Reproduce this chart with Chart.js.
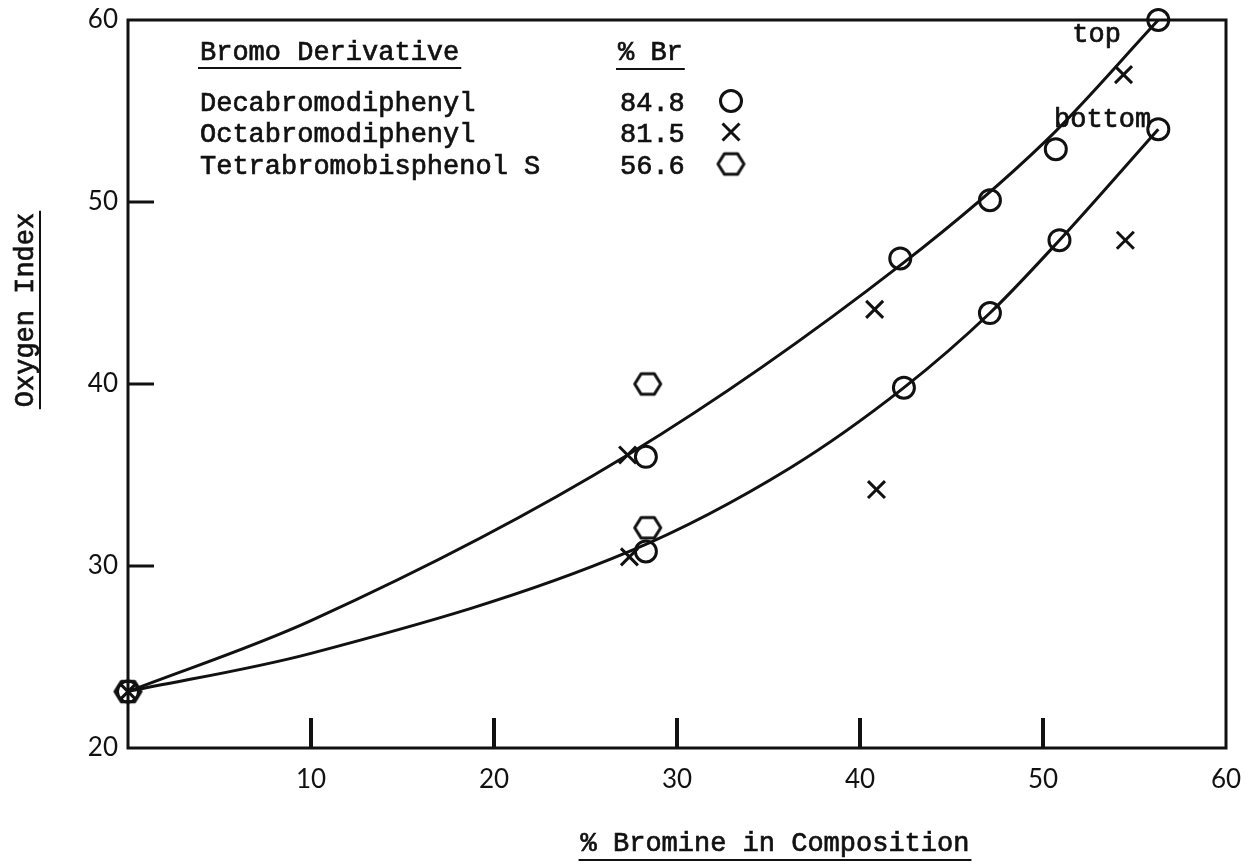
<!DOCTYPE html>
<html>
<head>
<meta charset="utf-8">
<title>Oxygen Index vs % Bromine</title>
<script src="https://cdn.jsdelivr.net/npm/chart.js@4.4.1/dist/chart.umd.min.js"></script>
<style>
  html, body { margin: 0; padding: 0; background: #fff; }
  #wrap { width: 1248px; height: 867px; }
</style>
</head>
<body>
<div id="wrap"><canvas id="chart" width="1248" height="867"></canvas></div>
<script>
// measured points, by bromo derivative
const decaX = [0, 28.3, 42.2, 47.1, 50.7, 56.3, 28.3, 42.4, 47.1, 50.9, 56.3];
const decaY = [23.1, 36.0, 46.9, 50.1, 52.9, 60.0, 30.8, 39.8, 43.9, 47.9, 54.0];
const octaX = [0, 27.3, 40.8, 54.4, 27.4, 40.9, 54.5];
const octaY = [23.1, 36.1, 44.1, 57.0, 30.5, 34.2, 47.9];
const tetraX = [0, 28.4, 28.4];
const tetraY = [23.1, 40.0, 32.1];

// hand-drawn fit lines ("top" and "bottom")
const topCurveX = [0, 10, 27.3, 42.3, 50.2, 56.3];
const topCurveY = [23.1, 27.0, 36.1, 46.6, 53.4, 60.0];
const bottomCurveX = [0, 10, 27.4, 36.2, 42.4, 47.1, 50.9, 56.3];
const bottomCurveY = [23.1, 25.2, 30.8, 35.4, 39.8, 43.9, 47.9, 54.0];

const xTicks = [0, 10, 20, 30, 40, 50, 60];
const yTicks = [20, 30, 40, 50, 60];

const derivatives = ['Decabromodiphenyl', 'Octabromodiphenyl', 'Tetrabromobisphenol S'];
const percentBr = ['84.8', '81.5', '56.6'];

const ink = '#111';
const typewriter = '27px "Liberation Mono", "Courier New", monospace';

// hexagon marker, flat top and bottom
function makeHexagon(r, lw) {
  const c = document.createElement('canvas');
  c.width = Math.ceil(2 * r + lw + 2);
  c.height = Math.ceil(2 * r * 0.92 + lw + 2);
  const g = c.getContext('2d');
  g.translate(c.width / 2, c.height / 2);
  g.strokeStyle = ink;
  g.lineWidth = lw;
  g.lineJoin = 'round';
  g.beginPath();
  for (let i = 0; i < 6; i++) {
    const a = i * Math.PI / 3;
    const px = r * Math.cos(a), py = r * 0.92 * Math.sin(a);
    if (i === 0) g.moveTo(px, py); else g.lineTo(px, py);
  }
  g.closePath();
  g.stroke();
  return c;
}
const hexagon = makeHexagon(13, 3);

const toPoints = (xs, ys) => xs.map((v, i) => ({ x: v, y: ys[i] }));

const markerStyles = [
  { pointStyle: 'circle', radius: 10.5 },
  { pointStyle: 'crossRot', radius: 12 },
  { pointStyle: hexagon, radius: 13 }
];

function line(ctx, x1, y1, x2, y2) {
  ctx.beginPath();
  ctx.moveTo(x1, y1);
  ctx.lineTo(x2, y2);
  ctx.stroke();
}

// typed text looks a bit heavier than the plain face
function typed(ctx, text, x, y) {
  ctx.fillText(text, x, y);
  ctx.lineWidth = 0.7;
  ctx.strokeText(text, x, y);
}

function underlinedText(ctx, text, x, y, gap) {
  typed(ctx, text, x, y);
  const w = ctx.measureText(text).width;
  ctx.lineWidth = 2;
  line(ctx, x - 2, y + gap, x + w + 2, y + gap);
}

const paperPlugin = {
  id: 'paper',
  beforeDatasetsDraw(chart) {
    const { ctx, chartArea: a, scales: { x, y } } = chart;
    ctx.save();
    ctx.strokeStyle = ink;
    ctx.lineWidth = 3;
    ctx.lineCap = 'square';
    ctx.strokeRect(a.left, a.top, a.right - a.left, a.bottom - a.top);

    // ticks point into the plot
    ctx.lineCap = 'butt';
    ctx.lineWidth = 4;
    xTicks.forEach(v => {
      if (v <= 0 || v >= 60) return;
      const px = x.getPixelForValue(v);
      line(ctx, px, a.bottom, px, a.bottom - 30);
    });
    ctx.lineWidth = 3;
    yTicks.forEach(v => {
      if (v <= 20 || v >= 60) return;
      const py = y.getPixelForValue(v);
      line(ctx, a.left, py, a.left + 26, py);
    });
    ctx.restore();
  },
  afterDraw(chart) {
    const { ctx, scales: { x, y } } = chart;
    ctx.save();
    ctx.fillStyle = ink;
    ctx.strokeStyle = ink;
    ctx.font = typewriter;
    ctx.textBaseline = 'alphabetic';
    ctx.textAlign = 'left';

    // axis titles
    const xt = '% Bromine in Composition';
    const xtw = ctx.measureText(xt).width;
    underlinedText(ctx, xt, 775 - xtw / 2, 851, 9);

    ctx.save();
    ctx.translate(33, 310);
    ctx.rotate(-Math.PI / 2);
    const yt = 'Oxygen Index';
    const ytw = ctx.measureText(yt).width;
    underlinedText(ctx, yt, -ytw / 2, 0, 7);
    ctx.restore();

    // key table
    underlinedText(ctx, 'Bromo Derivative', 200, 60, 8);
    underlinedText(ctx, '% Br', 618, 60, 9);
    const rowBase = [111, 142, 174];
    derivatives.forEach((name, i) => {
      typed(ctx, name, 200, rowBase[i]);
      typed(ctx, percentBr[i], 620, rowBase[i]);
      const m = markerStyles[i];
      ctx.lineWidth = 3;
      ctx.fillStyle = 'rgba(0,0,0,0)';
      Chart.helpers.drawPoint(ctx, { pointStyle: m.pointStyle, radius: m.radius, borderWidth: 3, rotation: 0 },
        731, rowBase[i] - 10);
      ctx.fillStyle = ink;
    });

    // curve labels
    typed(ctx, 'top', x.getPixelForValue(51.6), y.getPixelForValue(58.8));
    typed(ctx, 'bottom', x.getPixelForValue(50.6), y.getPixelForValue(54.1));
    ctx.restore();
  }
};

const curveStyle = {
  showLine: true,
  borderColor: ink,
  borderWidth: 3,
  pointRadius: 0,
  cubicInterpolationMode: 'monotone',
  fill: false,
  clip: false
};

const markerStyle = (m) => ({
  showLine: false,
  pointStyle: m.pointStyle,
  pointRadius: m.radius,
  pointBorderWidth: 3,
  pointBorderColor: ink,
  pointBackgroundColor: 'rgba(0,0,0,0)',
  clip: false
});

new Chart(document.getElementById('chart'), {
  type: 'scatter',
  data: {
    datasets: [
      Object.assign({ label: 'top', data: toPoints(topCurveX, topCurveY) }, curveStyle),
      Object.assign({ label: 'bottom', data: toPoints(bottomCurveX, bottomCurveY) }, curveStyle),
      Object.assign({ label: derivatives[0], data: toPoints(decaX, decaY) }, markerStyle(markerStyles[0])),
      Object.assign({ label: derivatives[1], data: toPoints(octaX, octaY) }, markerStyle(markerStyles[1])),
      Object.assign({ label: derivatives[2], data: toPoints(tetraX, tetraY) }, markerStyle(markerStyles[2]))
    ]
  },
  options: {
    responsive: false,
    animation: false,
    events: [],
    layout: { padding: { top: 20, right: 22, left: 0, bottom: 0 } },
    plugins: { legend: { display: false }, tooltip: { enabled: false } },
    scales: {
      x: {
        type: 'linear',
        min: 0,
        max: 60,
        afterBuildTicks: s => { s.ticks = xTicks.map(v => ({ value: v })); },
        afterFit: s => { s.height = 119; s.paddingLeft = 0; s.paddingRight = 0; },
        grid: { display: false, drawTicks: false },
        border: { display: false },
        ticks: {
          padding: 16,
          color: ink,
          font: { family: 'Lato', size: 26 },
          maxRotation: 0,
          callback: v => (v === 0 ? '' : String(v))
        }
      },
      y: {
        type: 'linear',
        min: 20,
        max: 60,
        afterBuildTicks: s => { s.ticks = yTicks.map(v => ({ value: v })); },
        afterFit: s => { s.width = 128; s.paddingTop = 0; s.paddingBottom = 0; },
        grid: { display: false, drawTicks: false },
        border: { display: false },
        ticks: {
          padding: 10,
          color: ink,
          font: { family: 'Lato', size: 26 }
        }
      }
    }
  },
  plugins: [paperPlugin]
});
</script>
</body>
</html>
